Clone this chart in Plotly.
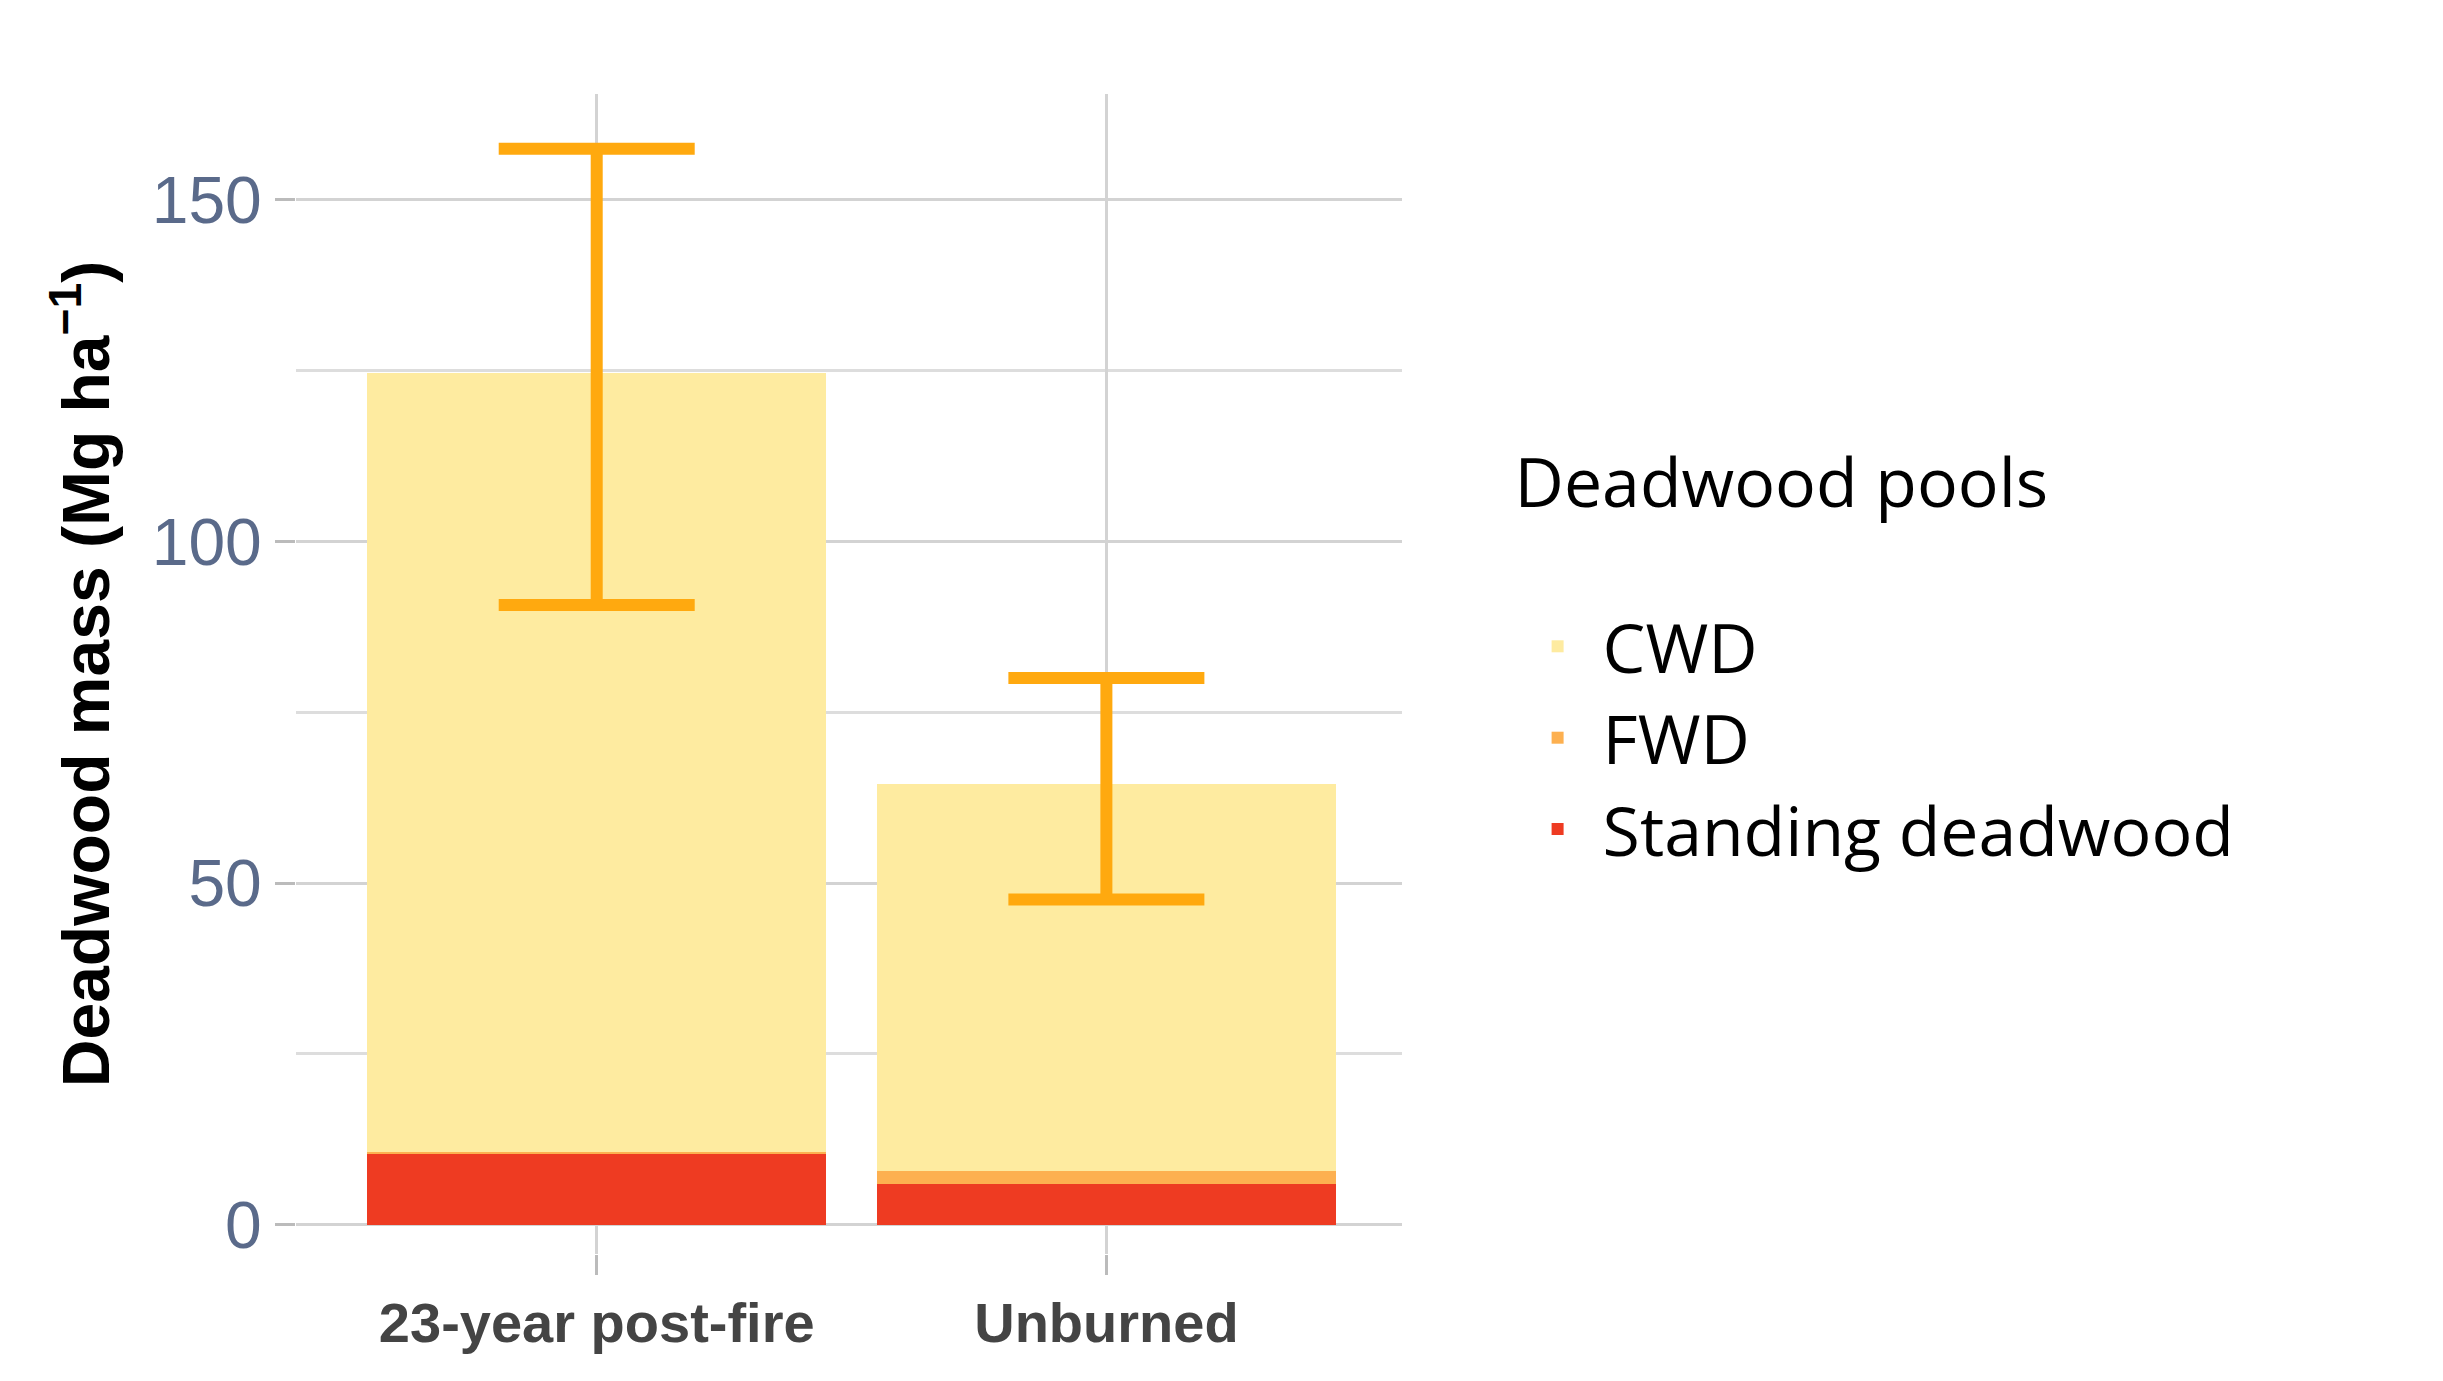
import plotly.graph_objects as go

categories = ["23-year post-fire", "Unburned"]
standing = [10.3, 5.9]
fwd = [0.3, 1.9]
cwd = [114.1, 56.7]
err_plus = [32.8, 15.5]
err_minus = [34.0, 16.9]
totals = [s + f + c for s, f, c in zip(standing, fwd, cwd)]

fig = go.Figure()
fig.add_bar(x=categories, y=standing, name="Standing deadwood", marker_color="#EE3B22", marker_line_width=0)
fig.add_bar(x=categories, y=fwd, name="FWD", marker_color="#FDB050", marker_line_width=0)
fig.add_bar(x=categories, y=cwd, name="CWD", marker_color="#FEEBA0", marker_line_width=0)
fig.add_scatter(x=categories, y=totals, mode="markers", marker=dict(opacity=0), showlegend=False,
                error_y=dict(type="data", symmetric=False, array=err_plus, arrayminus=err_minus,
                             color="#FFA90F", thickness=12, width=98))

fig.update_layout(
    width=2443, height=1381, barmode="stack", bargap=0.1,
    plot_bgcolor="white", paper_bgcolor="white",
    margin=dict(l=288, r=1049, t=86, b=135),
    font=dict(family="Liberation Sans"),
    legend=dict(title=dict(text="Deadwood pools<br> ", font=dict(size=68, color="black", family="Open Sans")),
                traceorder="reversed", font=dict(size=68, color="black", family="Open Sans"),
                x=1.1, y=0.72, yanchor="top", itemwidth=80, tracegroupgap=40),
)
fig.update_xaxes(range=[-0.59, 1.58], showgrid=True, gridcolor="#D3D3D3", gridwidth=3,
                 ticks="outside", ticklen=20, tickwidth=3, tickcolor="#BBBBBB",
                 tickfont=dict(size=56, color="#444444", family="Liberation Sans", weight="bold"), showline=False)
fig.update_yaxes(range=[-4.3, 165.5], tickvals=[0, 50, 100, 150], gridcolor="#D3D3D3", gridwidth=3,
                 minor=dict(tickvals=[25, 75, 125], showgrid=True, gridcolor="#DDDDDD", gridwidth=3),
                 zeroline=False, ticks="outside", ticklen=20, tickwidth=3, tickcolor="#BBBBBB",
                 tickfont=dict(size=66, color="#5A6A8A"),
                 title=dict(text="<b>Deadwood mass (Mg ha<sup>−1</sup>)</b>", font=dict(size=66, color="black"), standoff=20))
fig.write_html("out.html")
